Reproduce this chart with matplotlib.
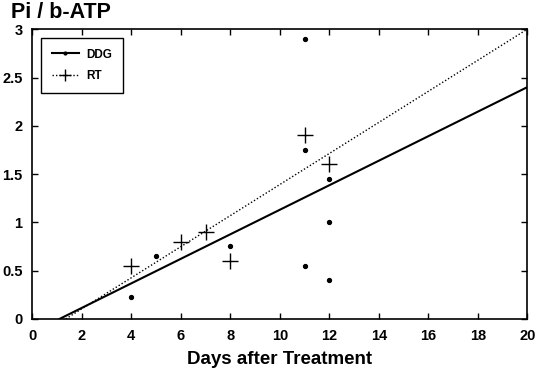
import matplotlib
matplotlib.use("Agg")
import matplotlib.pyplot as plt

plt.rcParams["font.family"] = ["Liberation Sans", "DejaVu Sans"]

# measured points
ddg_days = [4, 5, 8, 11, 11, 11, 12, 12, 12]
ddg_ratio = [0.23, 0.65, 0.76, 2.9, 1.75, 0.55, 1.45, 1.0, 0.4]
rt_days = [4, 6, 7, 8, 11, 12]
rt_ratio = [0.55, 0.8, 0.9, 0.6, 1.9, 1.6]

# regression lines
ddg_fit_x = [1.1, 20]
ddg_fit_y = [0.0, 2.4]
rt_fit_x = [1.35, 20]
rt_fit_y = [0.0, 3.0]

x_ticks = list(range(0, 21, 2))
y_ticks = [0, 0.5, 1, 1.5, 2, 2.5, 3]
y_labels = ["0", "0.5", "1", "1.5", "2", "2.5", "3"]

fig = plt.figure(figsize=(5.38, 3.70), dpi=100)
ax = fig.add_axes([0.06, 0.138, 0.92, 0.783])

ax.plot(ddg_fit_x, ddg_fit_y, color="black", lw=1.5, zorder=2)
ax.plot(rt_fit_x, rt_fit_y, color="black", lw=1.0, ls=(0, (1, 1.5)), zorder=2)
ax.plot(ddg_days, ddg_ratio, ls="none", marker="o", ms=2.8, color="black")
ax.plot(rt_days, rt_ratio, ls="none", marker="+", ms=11, mew=1.0, color="black")

# legend proxies with markers on the lines
h1, = ax.plot([], [], color="black", lw=1.5, marker=".", ms=4)
h2, = ax.plot([], [], color="black", lw=1.0, ls=(0, (1, 1.5)), marker="+", ms=9)
leg = ax.legend([h1, h2], ["DDG", "RT"], loc="upper left",
                bbox_to_anchor=(0.018, 0.97), fancybox=False,
                edgecolor="black", framealpha=1, handlelength=2.3,
                prop={"weight": "bold", "size": 8.5}, borderpad=0.9,
                labelspacing=0.8, handletextpad=0.6, borderaxespad=0)
leg.get_frame().set_linewidth(1.0)

ax.set_xlim(0, 20)
ax.set_ylim(0, 3)
ax.set_xticks(x_ticks)
ax.set_yticks(y_ticks)
ax.set_yticklabels(y_labels)
ax.tick_params(direction="in", length=4, width=1, labelsize=10.5, pad=7,
               top=True, right=True)
for lbl in ax.get_xticklabels() + ax.get_yticklabels():
    lbl.set_fontweight("bold")
for s in ax.spines.values():
    s.set_linewidth(1.2)

ax.set_xlabel("Days after Treatment", fontsize=13.5, fontweight="bold", labelpad=6)
fig.text(0.02, 0.938, "Pi / b-ATP", fontsize=15.5, fontweight="bold",
         va="bottom", ha="left")

fig.savefig("out.png", dpi=100)
